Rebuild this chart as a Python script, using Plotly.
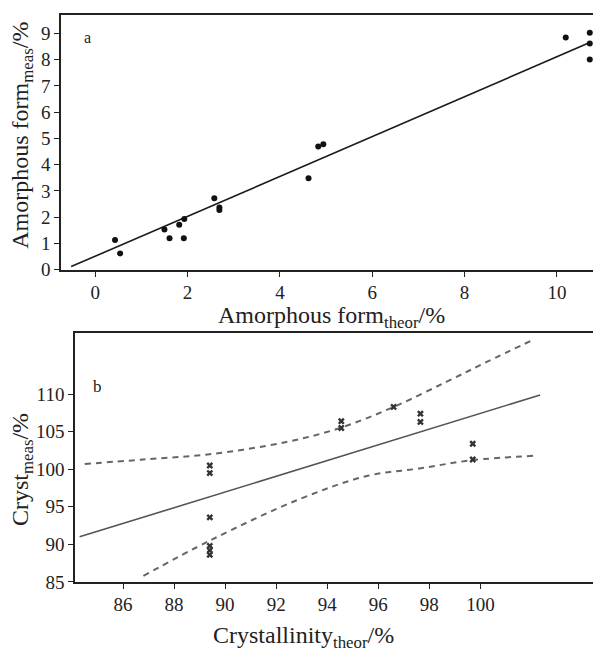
import plotly.graph_objects as go

# Panel a: amorphous form, theoretical vs measured (%)
amorph_theor = [0.43, 0.54, 1.50, 1.61, 1.82, 1.93, 1.92, 2.58, 2.69, 2.69,
                4.62, 4.83, 4.94, 10.19, 10.71, 10.71, 10.71]
amorph_meas = [1.13, 0.62, 1.53, 1.20, 1.71, 1.93, 1.20, 2.72, 2.37, 2.28,
               3.48, 4.69, 4.78, 8.84, 9.02, 8.62, 8.01]
amorph_fit_x = [-0.52, 10.71]
amorph_fit_y = [0.12, 8.65]

# Panel b: crystallinity, theoretical vs measured (%)
cryst_theor = [89.4, 89.4, 89.4, 89.4, 89.4, 89.4,
               94.55, 94.55, 96.6, 97.65, 97.65, 99.7, 99.7]
cryst_meas = [100.5, 99.5, 93.6, 89.8, 89.2, 88.6,
              106.4, 105.5, 108.3, 107.4, 106.3, 103.4, 101.3]
cryst_fit_x = [84.3, 102.34]
cryst_fit_y = [91.0, 109.9]
upper_band_x = [84.5, 86.8, 89.4, 92.35, 94.5, 96.6, 98.7, 100.25, 102.1]
upper_band_y = [100.7, 101.3, 102.0, 103.6, 105.5, 108.3, 111.7, 114.3, 117.3]
lower_band_x = [86.8, 89.4, 92.9, 95.55, 97.6, 99.66, 102.1]
lower_band_y = [85.8, 90.5, 96.0, 99.1, 100.1, 101.2, 101.8]

amorph_xticks = [0, 2, 4, 6, 8, 10]
amorph_yticks = list(range(0, 10))
cryst_xticks = [86, 88, 90, 92, 94, 96, 98, 100]
cryst_yticks = [85, 90, 95, 100, 105, 110]

W, H = 593, 664
FONT = "Liberation Serif, Times New Roman, Times, serif"
INK = "#222222"


def px_x(v):
    return v / W


def px_y(v):
    return (H - v) / H


fig = go.Figure()

fig.add_trace(go.Scatter(x=amorph_fit_x, y=amorph_fit_y, mode="lines",
                         line=dict(color="#1a1a1a", width=1.6),
                         xaxis="x", yaxis="y", showlegend=False))
fig.add_trace(go.Scatter(x=amorph_theor, y=amorph_meas, mode="markers",
                         marker=dict(color="#111111", size=6, symbol="circle"),
                         xaxis="x", yaxis="y", showlegend=False, cliponaxis=False))

fig.add_trace(go.Scatter(x=upper_band_x, y=upper_band_y, mode="lines",
                         line=dict(color="#666666", width=2, dash="6px,5px", shape="spline"),
                         xaxis="x2", yaxis="y2", showlegend=False))
fig.add_trace(go.Scatter(x=lower_band_x, y=lower_band_y, mode="lines",
                         line=dict(color="#666666", width=2, dash="6px,5px", shape="spline"),
                         xaxis="x2", yaxis="y2", showlegend=False))
fig.add_trace(go.Scatter(x=cryst_fit_x, y=cryst_fit_y, mode="lines",
                         line=dict(color="#555555", width=1.6),
                         xaxis="x2", yaxis="y2", showlegend=False))
fig.add_trace(go.Scatter(x=cryst_theor, y=cryst_meas, mode="markers",
                         marker=dict(color="#333333", size=6, symbol="x"),
                         xaxis="x2", yaxis="y2", showlegend=False))

axis_common = dict(showgrid=False, zeroline=False, showline=True, linecolor=INK,
                   linewidth=1.6, ticks="outside", ticklen=5, tickwidth=1.4,
                   tickcolor=INK, tickfont=dict(family=FONT, size=19, color=INK))

fig.update_layout(
    width=W, height=H,
    margin=dict(l=0, r=0, t=0, b=0),
    paper_bgcolor="white", plot_bgcolor="white",
    font=dict(family=FONT, color=INK),
    xaxis=dict(domain=[px_x(61), 1.0], range=[-0.74, 10.78], tickvals=amorph_xticks,
               mirror=True, anchor="y", **axis_common),
    yaxis=dict(domain=[px_y(274.3), px_y(15)], range=[0, 9.71], tickvals=amorph_yticks,
               anchor="x", **axis_common),
    xaxis2=dict(domain=[px_x(75), 1.0], range=[84.12, 104.41], tickvals=cryst_xticks,
                mirror=True, anchor="y2", **axis_common),
    yaxis2=dict(domain=[px_y(591.7), px_y(339)], range=[85, 118.1], tickvals=cryst_yticks,
                anchor="x2", **axis_common),
)

title_font = dict(family=FONT, size=24, color=INK)
annotations = [
    dict(text="Amorphous form<sub>theor</sub>/%", x=px_x(331), y=px_y(322.5),
         xref="paper", yref="paper", showarrow=False, font=title_font,
         xanchor="center", yanchor="middle"),
    dict(text="Amorphous form<sub>meas</sub>/%", x=px_x(22), y=px_y(138),
         xref="paper", yref="paper", showarrow=False, font=title_font,
         textangle=-90, xanchor="center", yanchor="middle"),
    dict(text="Crystallinity<sub>theor</sub>/%", x=px_x(303), y=px_y(648),
         xref="paper", yref="paper", showarrow=False, font=title_font,
         xanchor="center", yanchor="middle"),
    dict(text="Cryst<sub>meas</sub>/%", x=px_x(22), y=px_y(478),
         xref="paper", yref="paper", showarrow=False, font=title_font,
         textangle=-90, xanchor="center", yanchor="middle"),
    dict(text="a", x=px_x(87), y=px_y(38), xref="paper", yref="paper",
         showarrow=False, font=dict(family=FONT, size=16, color=INK),
         xanchor="center", yanchor="middle"),
    dict(text="b", x=px_x(97), y=px_y(393), xref="paper", yref="paper",
         showarrow=False, font=dict(family=FONT, size=17, color=INK),
         xanchor="center", yanchor="middle"),
]
fig.update_layout(annotations=annotations)

fig.write_html("out.html")
